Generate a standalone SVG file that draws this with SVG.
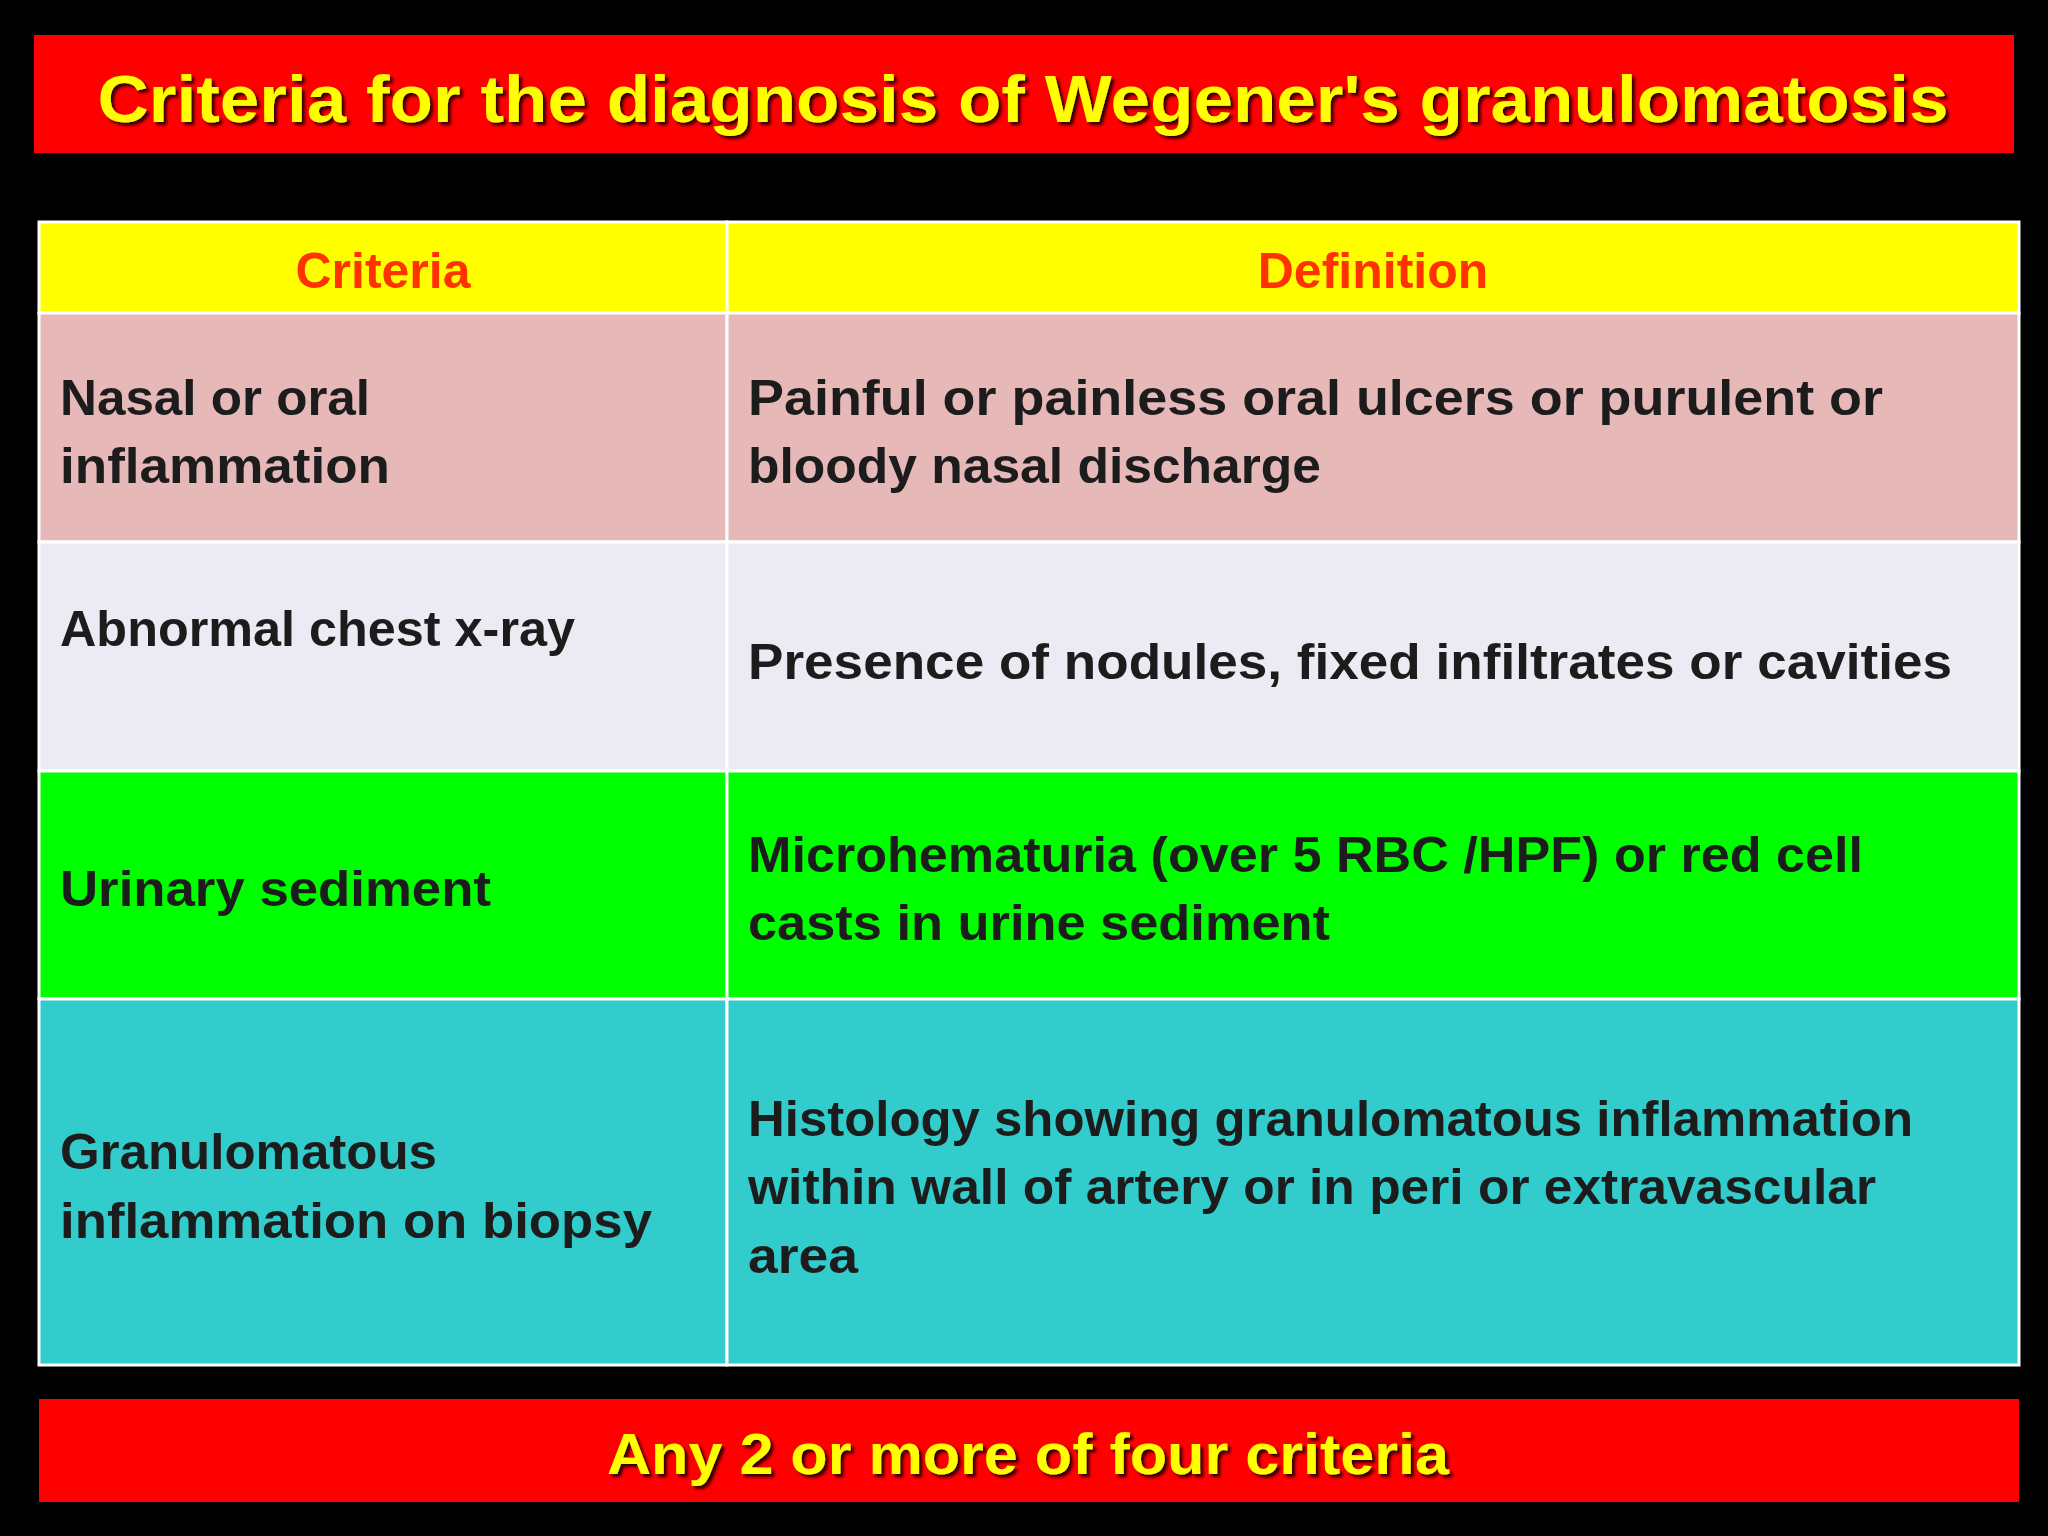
<svg xmlns="http://www.w3.org/2000/svg" width="2048" height="1536" viewBox="0 0 2048 1536">
<defs>
<style>
.t{font-family:"Liberation Sans",Arial,sans-serif;font-weight:bold;font-size:50px;fill:#1c1c1c}
.h{font-family:"Liberation Sans",Arial,sans-serif;font-weight:bold;font-size:50px;fill:#ff3300}
.y{font-family:"Liberation Sans",Arial,sans-serif;font-weight:bold;fill:#ffff00}
.c{stroke:#ffffff;stroke-width:3}
</style>
<filter id="sh"><feDropShadow dx="3" dy="3" stdDeviation="1.5" flood-color="#000" flood-opacity="0.8"/></filter>
</defs>
<rect width="2048" height="1536" fill="#000"/>
<g id="title">
<rect x="34" y="35" width="1980" height="118" fill="#ff0000"/>
<text class="y" x="1023" y="122" font-size="66" text-anchor="middle" textLength="1851" lengthAdjust="spacingAndGlyphs" filter="url(#sh)">Criteria for the diagnosis of Wegener's granulomatosis</text>
</g>
<g id="header">
<rect class="c" x="39" y="222" width="688" height="91" fill="#ffff00"/>
<rect class="c" x="727" y="222" width="1292" height="91" fill="#ffff00"/>
<text class="h" x="383" y="288" text-anchor="middle">Criteria</text>
<text class="h" x="1373" y="288" text-anchor="middle">Definition</text>
</g>
<g id="row1">
<rect class="c" x="39" y="313" width="688" height="229" fill="#e6b8b7"/>
<rect class="c" x="727" y="313" width="1292" height="229" fill="#e6b8b7"/>
<text class="t" x="60" y="415" textLength="310" lengthAdjust="spacingAndGlyphs">Nasal or oral</text>
<text class="t" x="60" y="483" textLength="330" lengthAdjust="spacingAndGlyphs">inflammation</text>
<text class="t" x="748" y="415" textLength="1135" lengthAdjust="spacingAndGlyphs">Painful  or painless  oral  ulcers  or purulent  or</text>
<text class="t" x="748" y="483" textLength="573" lengthAdjust="spacingAndGlyphs">bloody  nasal discharge</text>
</g>
<g id="row2">
<rect class="c" x="39" y="542" width="688" height="229" fill="#ecebf3"/>
<rect class="c" x="727" y="542" width="1292" height="229" fill="#ecebf3"/>
<text class="t" x="60" y="646" textLength="515" lengthAdjust="spacingAndGlyphs">Abnormal chest x-ray</text>
<text class="t" x="748" y="679" textLength="1204" lengthAdjust="spacingAndGlyphs">Presence  of  nodules,  fixed  infiltrates or cavities</text>
</g>
<g id="row3">
<rect class="c" x="39" y="771" width="688" height="228" fill="#00ff00"/>
<rect class="c" x="727" y="771" width="1292" height="228" fill="#00ff00"/>
<text class="t" x="60" y="906" textLength="431" lengthAdjust="spacingAndGlyphs">Urinary  sediment</text>
<text class="t" x="748" y="872" textLength="1115" lengthAdjust="spacingAndGlyphs">Microhematuria  (over 5 RBC /HPF) or red cell</text>
<text class="t" x="748" y="940" textLength="582" lengthAdjust="spacingAndGlyphs">casts in urine  sediment</text>
</g>
<g id="row4">
<rect class="c" x="39" y="999" width="688" height="366" fill="#33cccc"/>
<rect class="c" x="727" y="999" width="1292" height="366" fill="#33cccc"/>
<text class="t" x="60" y="1169" textLength="377" lengthAdjust="spacingAndGlyphs">Granulomatous</text>
<text class="t" x="60" y="1238" textLength="592" lengthAdjust="spacingAndGlyphs">inflammation  on biopsy</text>
<text class="t" x="748" y="1136" textLength="1165" lengthAdjust="spacingAndGlyphs">Histology showing granulomatous inflammation</text>
<text class="t" x="748" y="1204" textLength="1128" lengthAdjust="spacingAndGlyphs">within wall of artery or in peri or  extravascular</text>
<text class="t" x="748" y="1273" textLength="110" lengthAdjust="spacingAndGlyphs">area</text>
</g>
<g id="footer">
<rect x="39" y="1399" width="1980" height="103" fill="#ff0000"/>
<text class="y" x="1028" y="1474" font-size="58" text-anchor="middle" textLength="842" lengthAdjust="spacingAndGlyphs" filter="url(#sh)">Any 2 or more of four criteria</text>
</g>
<g id="connectors"/>
</svg>
